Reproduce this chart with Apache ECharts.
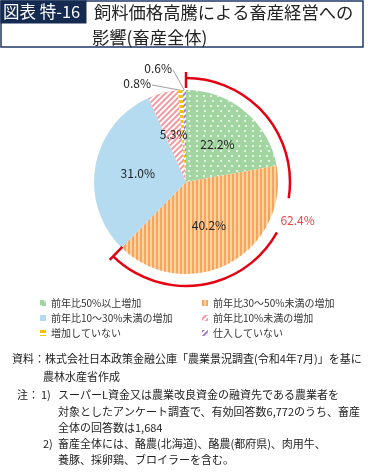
<!DOCTYPE html>
<html><head><meta charset="utf-8">
<script src="https://cdn.jsdelivr.net/npm/echarts@6/dist/echarts.min.js"></script>
<style>html,body{margin:0;padding:0;background:#fff}#c{width:368px;height:472px}</style>
</head><body><div id="c"></div>
<script>
// ---- data ----
const categories = ['前年比50%以上増加','前年比30～50%未満の増加','前年比10～30%未満の増加','前年比10%未満の増加','増加していない','仕入していない'];
const values = [22.2, 40.2, 31.0, 5.3, 0.8, 0.6];
const bracketCount = 2; // first two slices are bracketed
const titleTag = '図表 特-16';
const titleLines = ['飼料価格高騰による畜産経営への', '影響(畜産全体)'];
const noteLines = [
  ['資料：株式会社日本政策金融公庫「農業景況調査(令和4年7月)」を基に', 12, 359],
  ['農林水産省作成', 43, 377],
  ['注：', 17, 395],
  ['1)', 41, 395],
  ['スーパーL資金又は農業改良資金の融資先である農業者を', 58, 395],
  ['対象としたアンケート調査で、有効回答数6,772のうち、畜産', 58, 412],
  ['全体の回答数は1,684', 58, 428],
  ['2)', 43, 444],
  ['畜産全体には、酪農(北海道)、酪農(都府県)、肉用牛、', 58, 444],
  ['養豚、採卵鶏、ブロイラーを含む。', 58, 460]
];

// ---- styles ----
const FONT = "'Noto Sans CJK JP', 'Noto Sans', sans-serif";
const CX = 186, CY = 182, R = 92;
const sliceStyles = [
  {color:'#a2d5a2', decal:{symbol:'circle', symbolSize:0.9, color:'#ffffff', dashArrayX:[[2,5],[0,3.5,2,1.5]], dashArrayY:[2,2.5]}},
  {color:'#fcd2a4', decal:{symbol:'rect', symbolSize:1, color:'#f5a65c', dashArrayX:[1.6,1.6], dashArrayY:[1,0]}},
  {color:'#b4dbef'},
  {color:'#f29aa3', decal:{symbol:'rect', symbolSize:1, color:'#ffffff', dashArrayX:[1,0], dashArrayY:[1.8,1.8], rotation:-Math.PI/4}},
  {color:'#ffffff', decal:{symbol:'rect', symbolSize:1, color:'#f5c200', dashArrayX:[1,0], dashArrayY:[2.5,1.5]}},
  {color:'#ffffff', decal:{symbol:'rect', symbolSize:1, color:'#a27ed3', dashArrayX:[1,0], dashArrayY:[1.5,1.5], rotation:-Math.PI/4}}
];
const outsideLabelPos = {4: [-35, -99], 5: [-14, -114]}; // relative to pie centre

const total = values.reduce((a,b)=>a+b,0);
const bracketSum = values.slice(0, bracketCount).reduce((a,b)=>a+b,0);
const bracketEnd = bracketSum / total * 2 * Math.PI; // clockwise from top

const data = values.map((v,i)=>{
  const outside = i >= 4;
  return {
    value: v, name: categories[i],
    itemStyle: Object.assign({}, sliceStyles[i]),
    label: outside ? {position:'outside'} : {position:'inside'},
    labelLine: {show: outside, lineStyle:{color:'#888', width:0.8}}
  };
});

const chart = echarts.init(document.getElementById('c'), null, {renderer:'canvas'});

const AR = 104;
function polar(r, a){ return [CX + r*Math.sin(a), CY - r*Math.cos(a)]; }
const gapA = 99/180*Math.PI, gapB = 119/180*Math.PI;
const p0a = polar(94,0), p0b = polar(110,0);
const p1a = polar(91,bracketEnd), p1b = polar(109,bracketEnd);
const labPos = polar(AR+14, (gapA+gapB)/2);

const graphics = [
  {type:'rect', shape:{x:1, y:1, width:362, height:46}, style:{fill:'#fff', stroke:'#1f3864', lineWidth:1.5}, z:0},
  {type:'rect', shape:{x:0.5, y:0.5, width:86, height:23}, style:{fill:'#142a50'}, z:1},
  {type:'text', x:3, y:12, style:{text:titleTag, fill:'#fff', font:'16.5px '+FONT, textVerticalAlign:'middle'}, z:2},
  {type:'text', x:94, y:12, style:{text:titleLines[0], fill:'#222', font:'17.3px '+FONT, textVerticalAlign:'middle'}, z:2},
  {type:'text', x:92, y:37, style:{text:titleLines[1], fill:'#222', font:'17.3px '+FONT, textVerticalAlign:'middle'}, z:2},
  {type:'arc', shape:{cx:CX, cy:CY, r:AR, startAngle:-Math.PI/2, endAngle:-Math.PI/2+gapA, clockwise:true}, style:{stroke:'#e50012', lineWidth:2.5, fill:null}, z:3},
  {type:'arc', shape:{cx:CX, cy:CY, r:AR, startAngle:-Math.PI/2+gapB, endAngle:-Math.PI/2+bracketEnd, clockwise:true}, style:{stroke:'#e50012', lineWidth:2.5, fill:null}, z:3},
  {type:'line', shape:{x1:p0a[0], y1:p0a[1], x2:p0b[0], y2:p0b[1]}, style:{stroke:'#e50012', lineWidth:2.5}, z:3},
  {type:'line', shape:{x1:p1a[0], y1:p1a[1], x2:p1b[0], y2:p1b[1]}, style:{stroke:'#e50012', lineWidth:2.5}, z:3},
  {type:'text', x:labPos[0], y:labPos[1], style:{text:bracketSum.toFixed(1)+'%', fill:'#e8474a', font:'12px '+FONT, textAlign:'center', textVerticalAlign:'middle'}, z:3}
];
noteLines.forEach(([t,x,y])=>{
  graphics.push({type:'text', x:x, y:y, style:{text:t, fill:'#222', font:'11px '+FONT, textVerticalAlign:'middle'}});
});

const legendCommon = {
  orient:'vertical', itemWidth:6, itemHeight:6, itemGap:3, icon:'rect',
  textStyle:{fontFamily:FONT, fontSize:10, color:'#333', lineHeight:12}
};

chart.setOption({
  animation:false,
  textStyle:{fontFamily:FONT},
  legend:[
    Object.assign({left:35, top:292, data:[categories[0],categories[2],categories[4]]}, legendCommon),
    Object.assign({left:197, top:292, data:[categories[1],categories[3],categories[5]]}, legendCommon)
  ],
  graphic: graphics,
  series:[{
    type:'pie', center:[CX, CY], radius:[0, R], startAngle:90, clockwise:true,
    label:{show:true, formatter:p=>p.value.toFixed(1)+'%', fontSize:12, color:'#222', fontFamily:FONT},
    labelLine:{length:8, length2:8},
    itemStyle:{borderWidth:0},
    emphasis:{disabled:true},
    labelLayout: function(p){
      const rel = outsideLabelPos[p.dataIndex];
      if (!rel) return {};
      const x = CX + rel[0], y = CY + rel[1];
      const start = p.labelLinePoints ? p.labelLinePoints[0] : [x,y];
      const end = [x + 1, y + 2];
      return {x:x, y:y, align:'right', verticalAlign:'middle',
        labelLinePoints:[start, [(start[0]+end[0])/2,(start[1]+end[1])/2], end]};
    },
    data: data
  }]
});
</script></body></html>
